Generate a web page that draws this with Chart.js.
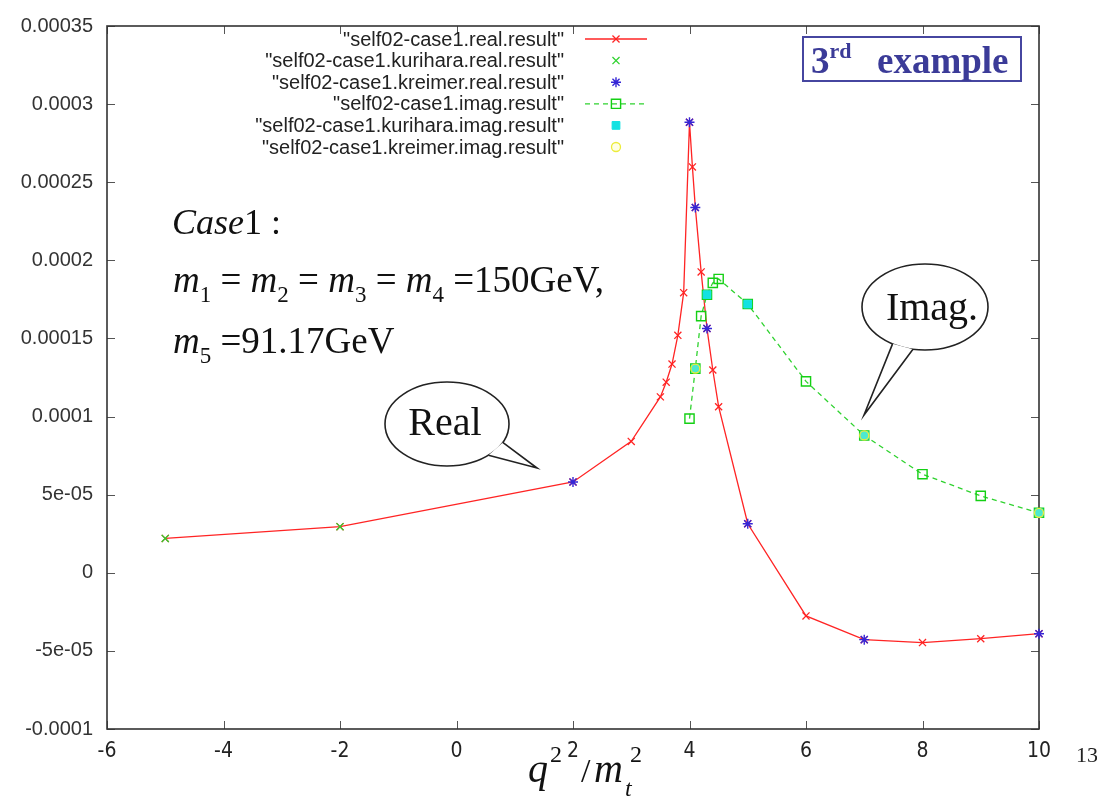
<!DOCTYPE html>
<html>
<head>
<meta charset="utf-8">
<script src="https://cdn.jsdelivr.net/npm/chart.js@4.4.0/dist/chart.umd.min.js"></script>
<style>
  html, body { margin: 0; padding: 0; background: #fff; }
  #wrap { width: 1097px; height: 802px; }
</style>
</head>
<body>
<div id="wrap"><canvas id="chart" width="1097" height="802"></canvas></div>
<script>
// values
const realX = [-5, -2, 2, 3, 3.5, 3.6, 3.7, 3.8, 3.9, 4.0, 4.05, 4.1, 4.2, 4.3, 4.4, 4.5, 5, 6, 7, 8, 9, 10];
const realY = [2.2e-5, 2.95e-5, 5.81e-5, 8.41e-5, 11.26e-5, 12.2e-5, 13.36e-5, 15.2e-5, 17.93e-5, 28.84e-5, 25.98e-5,
  23.38e-5, 19.26e-5, 15.64e-5, 12.98e-5, 10.63e-5, 3.14e-5, -2.76e-5, -4.28e-5, -4.47e-5, -4.22e-5, -3.9e-5];

const kuriharaRealX = [-5, -2];
const kuriharaRealY = [2.2e-5, 2.95e-5];

const kreimerRealX = [2, 4.0, 4.1, 4.3, 5, 7, 10];
const kreimerRealY = [5.81e-5, 28.84e-5, 23.38e-5, 15.64e-5, 3.14e-5, -4.28e-5, -3.9e-5];

const imagX = [4.0, 4.1, 4.2, 4.3, 4.4, 4.5, 5, 6, 7, 8, 9, 10];
const imagY = [9.87e-5, 13.07e-5, 16.43e-5, 17.8e-5, 18.56e-5, 18.81e-5, 17.2e-5, 12.25e-5, 8.79e-5, 6.31e-5, 4.92e-5, 3.84e-5];

const kuriharaImagX = [4.1, 4.3, 5, 7, 10];
const kuriharaImagY = [13.07e-5, 17.8e-5, 17.2e-5, 8.79e-5, 3.84e-5];

const kreimerImagX = [4.1, 7, 10];
const kreimerImagY = [13.07e-5, 8.79e-5, 3.84e-5];

const xTicks = [-6, -4, -2, 0, 2, 4, 6, 8, 10];
const yTicks = [-0.0001, -0.00005, 0, 0.00005, 0.0001, 0.00015, 0.0002, 0.00025, 0.0003, 0.00035];
const yTickLabels = ["-0.0001", "-5e-05", "0", "5e-05", "0.0001", "0.00015", "0.0002", "0.00025", "0.0003", "0.00035"];

const SERIF = "'Liberation Serif', 'Times New Roman', serif";
const SANS = "'Liberation Sans', Arial, sans-serif";

function pts(xs, ys) {
  return xs.map((x, i) => ({ x: x, y: ys[i] }));
}

// gnuplot-like box with inward ticks on all four sides
const frame = {
  id: "frame",
  beforeDatasetsDraw(chart) {
    const { ctx, chartArea: a, scales } = chart;
    ctx.save();
    ctx.strokeStyle = "#555";
    ctx.lineWidth = 1;
    ctx.beginPath();
    scales.x.ticks.forEach(t => {
      const px = Math.round(scales.x.getPixelForValue(t.value)) + 0.5;
      ctx.moveTo(px, a.bottom); ctx.lineTo(px, a.bottom - 8);
      ctx.moveTo(px, a.top); ctx.lineTo(px, a.top + 8);
    });
    scales.y.ticks.forEach(t => {
      const py = Math.round(scales.y.getPixelForValue(t.value)) + 0.5;
      ctx.moveTo(a.left, py); ctx.lineTo(a.left + 8, py);
      ctx.moveTo(a.right, py); ctx.lineTo(a.right - 8, py);
    });
    ctx.stroke();
    ctx.strokeStyle = "#333";
    ctx.lineWidth = 1.6;
    ctx.strokeRect(a.left, a.top, a.right - a.left, a.bottom - a.top);
    ctx.restore();
  }
};

function drawRich(ctx, x, y, parts) {
  parts.forEach(p => {
    ctx.font = p[1];
    ctx.fillText(p[0], x, y + (p[2] || 0));
    x += ctx.measureText(p[0]).width;
  });
}

function bubble(ctx, cx, cy, rx, ry, a1, a2, tipX, tipY) {
  const b1 = [cx + rx * Math.cos(a1), cy + ry * Math.sin(a1)];
  const b2 = [cx + rx * Math.cos(a2), cy + ry * Math.sin(a2)];
  ctx.save();
  ctx.fillStyle = "#fff";
  ctx.strokeStyle = "#222";
  ctx.lineWidth = 1.6;
  ctx.beginPath();
  ctx.ellipse(cx, cy, rx, ry, 0, 0, Math.PI * 2);
  ctx.fill();
  ctx.stroke();
  ctx.beginPath();
  ctx.moveTo(b1[0], b1[1]);
  ctx.lineTo(tipX, tipY);
  ctx.lineTo(b2[0], b2[1]);
  ctx.closePath();
  ctx.fill();
  ctx.beginPath();
  ctx.moveTo(b1[0], b1[1]);
  ctx.lineTo(tipX, tipY);
  ctx.lineTo(b2[0], b2[1]);
  ctx.stroke();
  ctx.restore();
}

const annotations = {
  id: "annotations",
  afterDatasetsDraw(chart) {
    const ctx = chart.ctx;
    const deg = Math.PI / 180;
    ctx.save();
    ctx.fillStyle = "#111";
    ctx.textBaseline = "alphabetic";
    ctx.textAlign = "left";

    const it = "italic 37px " + SERIF, rm = "37px " + SERIF, sub = "23px " + SERIF;
    drawRich(ctx, 172, 234, [["Case", "italic 36px " + SERIF], ["1 :", "36px " + SERIF]]);
    drawRich(ctx, 173, 292, [
      ["m", it], ["1", sub, 10], [" = ", rm], ["m", it], ["2", sub, 10], [" = ", rm],
      ["m", it], ["3", sub, 10], [" = ", rm], ["m", it], ["4", sub, 10], [" =", rm], ["150GeV,", rm]
    ]);
    drawRich(ctx, 173, 353, [["m", it], ["5", sub, 10], [" =", rm], ["91.17GeV", rm]]);

    bubble(ctx, 447, 424, 62, 42, 26 * deg, 48 * deg, 537, 468);
    bubble(ctx, 925, 307, 63, 43, 101 * deg, 121 * deg, 864, 415);
    ctx.fillStyle = "#111";
    ctx.textAlign = "center";
    ctx.font = "40px " + SERIF;
    ctx.fillText("Real", 445, 435);
    ctx.fillText("Imag.", 932, 320);

    // boxed label
    ctx.strokeStyle = "#4646a0";
    ctx.lineWidth = 2;
    ctx.strokeRect(803, 37, 218, 44);
    ctx.fillStyle = "#3b3b98";
    ctx.textAlign = "left";
    drawRich(ctx, 811, 73, [["3", "bold 37px " + SERIF], ["rd", "bold 22px " + SERIF, -15]]);
    ctx.font = "bold 37px " + SERIF;
    ctx.fillText("example", 877, 73);

    // axis title
    ctx.fillStyle = "#111";
    ctx.font = "italic 40px " + SERIF;
    ctx.fillText("q", 528, 782);
    ctx.font = "24px " + SERIF;
    ctx.fillText("2", 550, 762);
    ctx.font = "34px " + SERIF;
    ctx.fillText("/", 581, 782);
    ctx.font = "italic 40px " + SERIF;
    ctx.fillText("m", 594, 782);
    ctx.font = "italic 24px " + SERIF;
    ctx.fillText("t", 625, 796);
    ctx.font = "24px " + SERIF;
    ctx.fillText("2", 630, 762);

    // page number
    ctx.font = "22px " + SERIF;
    ctx.fillStyle = "#222";
    ctx.fillText("13", 1076, 762);
    ctx.restore();
  }
};

// gnuplot-style key: right-aligned names, sample on the right
const key = {
  id: "key",
  afterDatasetsDraw(chart) {
    const ctx = chart.ctx;
    ctx.save();
    chart.data.datasets.forEach((ds, i) => {
      const y = 39 + i * 21.6;
      ctx.font = "20px " + SANS;
      ctx.fillStyle = "#222";
      ctx.textAlign = "right";
      ctx.textBaseline = "middle";
      ctx.fillText('"' + ds.label + '"', 564, y + 1);
      if (ds.showLine) {
        ctx.strokeStyle = ds.borderColor;
        ctx.lineWidth = ds.borderWidth;
        ctx.setLineDash(ds.borderDash || []);
        ctx.beginPath();
        ctx.moveTo(585, y);
        ctx.lineTo(647, y);
        ctx.stroke();
        ctx.setLineDash([]);
      }
      ctx.strokeStyle = ds.pointBorderColor;
      ctx.fillStyle = ds.pointBackgroundColor;
      ctx.lineWidth = ds.pointBorderWidth;
      Chart.helpers.drawPoint(ctx, {
        pointStyle: ds.pointStyle, radius: ds.pointRadius, rotation: 0, borderWidth: ds.pointBorderWidth
      }, 616, y);
    });
    ctx.restore();
  }
};

const red = "#ff2424", green = "#2fd22f", blue = "#3526d6", cyan = "#12e2e2", yellow = "#ecec3a";

new Chart(document.getElementById("chart"), {
  type: "scatter",
  data: {
    datasets: [
      {
        label: "self02-case1.real.result", data: pts(realX, realY), showLine: true, tension: 0,
        borderColor: red, borderWidth: 1.3, pointStyle: "crossRot", pointRadius: 5,
        pointBorderColor: red, pointBackgroundColor: red, pointBorderWidth: 1.3, order: 6
      },
      {
        label: "self02-case1.kurihara.real.result", data: pts(kuriharaRealX, kuriharaRealY), showLine: false,
        pointStyle: "crossRot", pointRadius: 5, pointBorderColor: green, pointBackgroundColor: green,
        pointBorderWidth: 1.3, order: 5
      },
      {
        label: "self02-case1.kreimer.real.result", data: pts(kreimerRealX, kreimerRealY), showLine: false,
        pointStyle: "star", pointRadius: 5, pointBorderColor: blue, pointBackgroundColor: blue,
        pointBorderWidth: 1.4, order: 4
      },
      {
        label: "self02-case1.imag.result", data: pts(imagX, imagY), showLine: true, tension: 0,
        borderColor: green, borderWidth: 1.3, borderDash: [5, 4], pointStyle: "rect", pointRadius: 6.5,
        pointBorderColor: "#14d014", pointBackgroundColor: "rgba(255,255,255,0)", pointBorderWidth: 1.4, order: 3
      },
      {
        label: "self02-case1.kurihara.imag.result", data: pts(kuriharaImagX, kuriharaImagY), showLine: false,
        pointStyle: "rect", pointRadius: 5.5, pointBorderColor: cyan, pointBackgroundColor: cyan,
        pointBorderWidth: 1, order: 2
      },
      {
        label: "self02-case1.kreimer.imag.result", data: pts(kreimerImagX, kreimerImagY), showLine: false,
        pointStyle: "circle", pointRadius: 4.5, pointBorderColor: yellow, pointBackgroundColor: "rgba(255,255,150,0.25)",
        pointBorderWidth: 1.3, order: 1
      }
    ]
  },
  options: {
    responsive: false,
    animation: false,
    events: [],
    clip: false,
    layout: { padding: { top: 20, right: 58, bottom: 0, left: 0 } },
    plugins: { legend: { display: false }, tooltip: { enabled: false } },
    scales: {
      x: {
        type: "linear", min: -6, max: 10,
        afterBuildTicks: s => { s.ticks = xTicks.map(v => ({ value: v })); },
        afterFit: s => { s.height = 73; },
        grid: { display: false, drawTicks: false },
        border: { display: false },
        ticks: {
          autoSkip: false, maxRotation: 0, padding: 10, color: "#222",
          font: { family: "'DejaVu Sans Condensed', 'Liberation Sans Narrow', 'Liberation Sans', sans-serif", size: 21 },
          callback: v => String(v)
        }
      },
      y: {
        type: "linear", min: -0.0001, max: 0.00035,
        afterBuildTicks: s => { s.ticks = yTicks.map(v => ({ value: v })); },
        afterFit: s => { s.width = 107; },
        grid: { display: false, drawTicks: false },
        border: { display: false },
        ticks: {
          autoSkip: false, padding: 14, color: "#333",
          font: { family: SANS, size: 20 },
          callback: (v, i) => yTickLabels[i]
        }
      }
    }
  },
  plugins: [frame, key, annotations]
});
</script>
</body>
</html>
